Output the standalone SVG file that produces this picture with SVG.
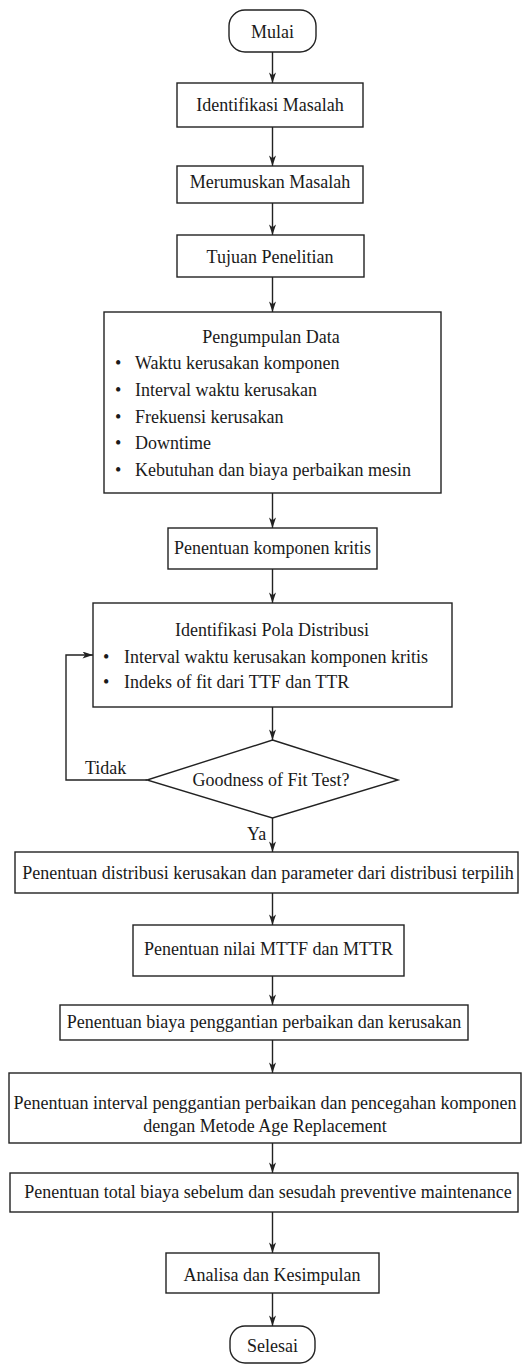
<svg xmlns="http://www.w3.org/2000/svg" width="530" height="1365" viewBox="0 0 530 1365">
<style>
.box{fill:#fff;stroke:#222;stroke-width:1.4}
.t{font-family:"Liberation Serif","Times New Roman",serif;font-size:18px;fill:#1a1a1a}
.c{text-anchor:middle}
.ln{fill:none;stroke:#222;stroke-width:1.4}
</style>
<defs>
<marker id="ah" viewBox="0 0 12 8" refX="12" refY="4" markerWidth="12" markerHeight="7" markerUnits="userSpaceOnUse" orient="auto">
<path d="M0,0 L12,4 L0,8 L3,4 z" fill="#222"/>
</marker>
</defs>
<rect width="530" height="1365" fill="#fff"/>
<g id="connectors">
<line class="ln" x1="272.5" y1="52" x2="272.5" y2="83" marker-end="url(#ah)"/>
<line class="ln" x1="272.5" y1="127" x2="272.5" y2="166" marker-end="url(#ah)"/>
<line class="ln" x1="272.5" y1="203" x2="272.5" y2="235" marker-end="url(#ah)"/>
<line class="ln" x1="272.5" y1="277" x2="272.5" y2="312" marker-end="url(#ah)"/>
<line class="ln" x1="272.5" y1="493" x2="272.5" y2="528" marker-end="url(#ah)"/>
<line class="ln" x1="272.5" y1="569" x2="272.5" y2="603" marker-end="url(#ah)"/>
<line class="ln" x1="272.5" y1="707" x2="272.5" y2="740" marker-end="url(#ah)"/>
<polyline class="ln" points="147,780 66,780 66,655 93,655" marker-end="url(#ah)"/>
<line class="ln" x1="272.5" y1="818" x2="272.5" y2="852" marker-end="url(#ah)"/>
<line class="ln" x1="272.5" y1="893" x2="272.5" y2="925" marker-end="url(#ah)"/>
<line class="ln" x1="272.5" y1="976" x2="272.5" y2="1005" marker-end="url(#ah)"/>
<line class="ln" x1="272.5" y1="1040" x2="272.5" y2="1073" marker-end="url(#ah)"/>
<line class="ln" x1="272.5" y1="1143" x2="272.5" y2="1173" marker-end="url(#ah)"/>
<line class="ln" x1="272.5" y1="1212" x2="272.5" y2="1253" marker-end="url(#ah)"/>
<line class="ln" x1="272.5" y1="1293" x2="272.5" y2="1326" marker-end="url(#ah)"/>
<text class="t" x="85" y="774">Tidak</text>
<text class="t" x="247" y="840">Ya</text>
</g>
<g id="mulai">
<rect class="box" x="229" y="10" width="87" height="42" rx="16" ry="16"/>
<text class="t c" x="272.5" y="37.5">Mulai</text>
</g>
<g id="identifikasi-masalah">
<rect class="box" x="177" y="83" width="186" height="44"/>
<text class="t c" x="270" y="111">Identifikasi Masalah</text>
</g>
<g id="merumuskan-masalah">
<rect class="box" x="177" y="166" width="186" height="37"/>
<text class="t c" x="270" y="188">Merumuskan Masalah</text>
</g>
<g id="tujuan-penelitian">
<rect class="box" x="177" y="235" width="187" height="42"/>
<text class="t c" x="270" y="262.5">Tujuan Penelitian</text>
</g>
<g id="pengumpulan-data">
<rect class="box" x="104" y="312" width="337" height="181"/>
<text class="t c" x="271" y="342.5">Pengumpulan Data</text>
<text class="t" x="115" y="369">•</text><text class="t" x="135" y="369">Waktu kerusakan komponen</text>
<text class="t" x="115" y="396">•</text><text class="t" x="135" y="396">Interval waktu kerusakan</text>
<text class="t" x="115" y="422.5">•</text><text class="t" x="135" y="422.5">Frekuensi kerusakan</text>
<text class="t" x="115" y="449">•</text><text class="t" x="135" y="449">Downtime</text>
<text class="t" x="115" y="476">•</text><text class="t" x="135" y="476">Kebutuhan dan biaya perbaikan mesin</text>
</g>
<g id="penentuan-komponen-kritis">
<rect class="box" x="168" y="528" width="209" height="41"/>
<text class="t c" x="272.5" y="554">Penentuan komponen kritis</text>
</g>
<g id="identifikasi-pola">
<rect class="box" x="93" y="603" width="359" height="104"/>
<text class="t c" x="272" y="636">Identifikasi Pola Distribusi</text>
<text class="t" x="103" y="662.5">•</text><text class="t" x="124" y="662.5">Interval waktu kerusakan komponen kritis</text>
<text class="t" x="103" y="687.5">•</text><text class="t" x="124" y="687.5">Indeks of fit dari TTF dan TTR</text>
</g>
<g id="goodness-of-fit">
<polygon class="box" points="272.5,740 398,780 272.5,818 147,780"/>
<text class="t c" x="271" y="786">Goodness of Fit Test?</text>
</g>
<g id="penentuan-distribusi">
<rect class="box" x="15" y="852" width="503" height="41"/>
<text class="t c" x="268" y="879">Penentuan distribusi kerusakan dan parameter dari distribusi terpilih</text>
</g>
<g id="penentuan-mttf">
<rect class="box" x="133" y="925" width="271" height="51"/>
<text class="t c" x="268.5" y="955">Penentuan nilai MTTF dan MTTR</text>
</g>
<g id="penentuan-biaya">
<rect class="box" x="60" y="1005" width="408" height="35"/>
<text class="t c" x="264" y="1027.5">Penentuan biaya penggantian perbaikan dan kerusakan</text>
</g>
<g id="penentuan-interval">
<rect class="box" x="9" y="1073" width="512" height="70"/>
<text class="t c" x="265" y="1109">Penentuan interval penggantian perbaikan dan pencegahan komponen</text>
<text class="t c" x="265" y="1132">dengan Metode Age Replacement</text>
</g>
<g id="penentuan-total">
<rect class="box" x="10" y="1173" width="508" height="39"/>
<text class="t c" x="268" y="1198">Penentuan total biaya sebelum dan sesudah preventive maintenance</text>
</g>
<g id="analisa">
<rect class="box" x="166" y="1253" width="213" height="40"/>
<text class="t c" x="272" y="1281">Analisa dan Kesimpulan</text>
</g>
<g id="selesai">
<rect class="box" x="230" y="1326" width="85" height="37" rx="15" ry="15"/>
<text class="t c" x="272.5" y="1352">Selesai</text>
</g>
</svg>
